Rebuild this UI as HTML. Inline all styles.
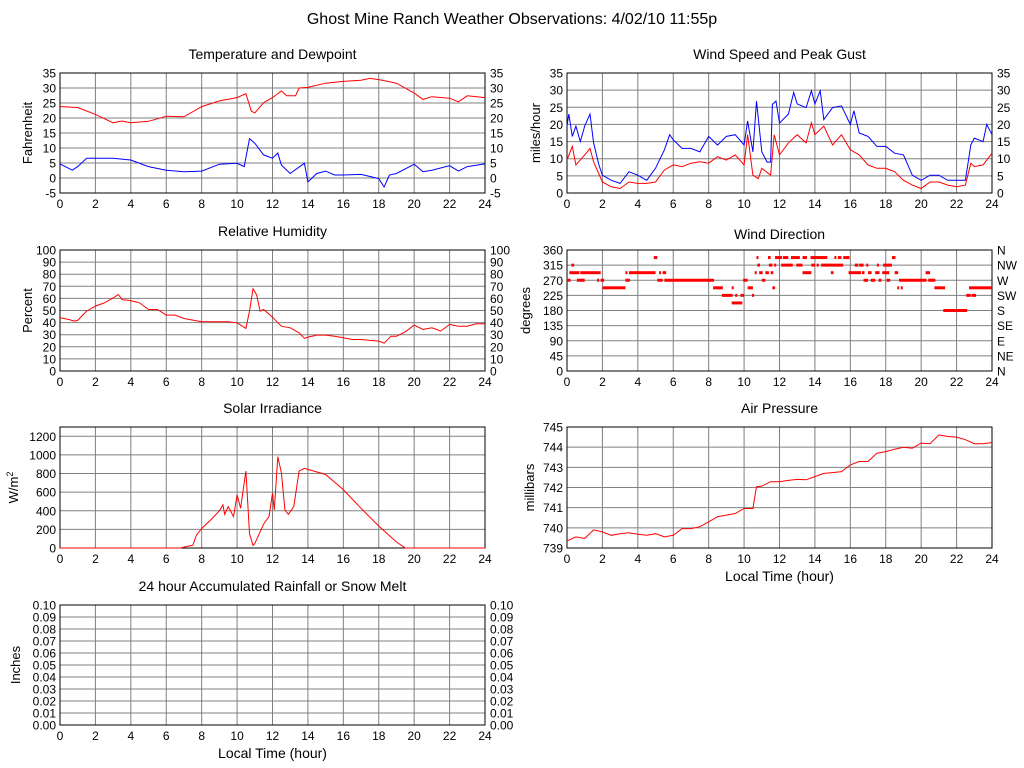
<!DOCTYPE html>
<html><head><meta charset="utf-8"><style>
html,body{margin:0;padding:0;background:#fff;}
svg{display:block;font-family:"Liberation Sans",Arial,sans-serif;}
</style></head><body>
<svg id="chart" width="1024" height="768" viewBox="0 0 1024 768" xmlns="http://www.w3.org/2000/svg">
<text x="512" y="24" text-anchor="middle" font-size="16">Ghost Mine Ranch Weather Observations: 4/02/10 11:55p</text>
</svg>
<script>
const hourTicks=[0,2,4,6,8,10,12,14,16,18,20,22,24];
const tempTicks=[-5,0,5,10,15,20,25,30,35];
const windTicks=[0,5,10,15,20,25,30,35];
const rhTicks=[0,10,20,30,40,50,60,70,80,90,100];
const dirTicks=[0,45,90,135,180,225,270,315,360];
const dirNames=["N","NE","E","SE","S","SW","W","NW","N"];
const solarTicks=[0,200,400,600,800,1000,1200];
const presTicks=[739,740,741,742,743,744,745];
const rainTicks=[0,0.01,0.02,0.03,0.04,0.05,0.06,0.07,0.08,0.09,0.10];

const tempHours=[0,1,2,3,3.5,4,5,6,7,8,9,10,10.5,10.8,11,11.5,12,12.5,12.8,13.3,13.5,14,15,16,17,17.5,18,19,20,20.5,21,22,22.5,23,24];
const tempVals=[23.8,23.5,21.2,18.4,19,18.4,18.9,20.6,20.4,23.8,25.7,26.8,28.1,22.3,21.7,25.1,26.8,29,27.4,27.4,30,30.2,31.6,32.2,32.6,33.2,32.8,31.6,28.3,26.2,27.1,26.6,25.4,27.4,26.8];
const dewHours=[0,0.7,1,1.5,2,3,4,5,6,7,8,9,10,10.4,10.7,11,11.5,12,12.3,12.5,13,13.8,14,14.5,15,15.5,16,17,18,18.3,18.6,19,20,20.5,21,22,22.5,23,24];
const dewVals=[4.7,2.6,3.8,6.6,6.6,6.6,6.0,3.8,2.6,2.1,2.3,4.6,4.9,3.8,13.1,11.6,7.7,6.6,8.3,4.3,1.5,4.9,-1.3,1.5,2.3,1,1,1.2,-0.2,-3,1,1.5,4.6,2.1,2.6,4.1,2.3,3.8,4.7];

const gustHours=[0,0.1,0.3,0.5,0.75,1,1.3,1.5,1.8,2,2.5,3,3.5,4,4.5,5,5.5,5.8,6,6.5,7,7.5,8,8.5,9,9.5,10,10.2,10.5,10.7,11,11.3,11.5,11.6,11.8,12,12.5,12.8,13,13.5,13.8,14,14.3,14.5,15,15.5,16,16.2,16.5,17,17.5,18,18.5,19,19.5,20,20.5,21,21.5,22,22.5,22.8,23,23.5,23.7,24];
const gustVals=[19.5,23,16.5,19.5,15,19.5,23,14.6,8.2,5.2,3.7,2.8,6.2,5.2,3.7,7.2,12.6,17,15.5,13,13,12,16.5,14,16.5,17,14,21,12,26.8,12,9,9,25.9,26.8,20.4,23,29.3,26,24.9,29.8,26,29.8,21.4,24.9,25.4,20,24,17.5,16.5,13.6,13.6,11.6,11.1,5.2,3.7,5.2,5.2,3.7,3.7,3.7,14,16,15,20,17];
const avgHours=[0,0.3,0.5,1,1.3,1.5,2,2.5,3,3.5,4,4.5,5,5.5,6,6.5,7,7.5,8,8.5,9,9.5,10,10.2,10.5,10.8,11,11.5,11.7,12,12.5,13,13.5,13.8,14,14.5,15,15.5,16,16.5,17,17.5,18,18.5,19,19.5,20,20.5,21,21.5,22,22.5,22.8,23,23.5,24];
const avgVals=[9.6,13.6,8.2,11.1,13,9.1,3.2,1.8,1.3,3.2,2.8,2.8,3.2,6.7,8.2,7.7,8.7,9.1,8.7,10.6,9.6,11.1,8.2,17,5.2,4.2,7.2,5.2,17,11.1,14.6,17,14.6,20.5,17,19.5,14,17,12.6,11.1,8.2,7.2,7.2,6.2,3.7,2.3,1.3,3.2,3.2,2.3,1.8,2.3,8.7,7.7,8.2,11.6];

const rhHours=[0,0.5,0.8,1,1.5,2,2.5,3,3.3,3.5,4,4.5,5,5.5,6,6.5,7,8,8.5,9,9.5,10,10.5,10.7,10.9,11.1,11.3,11.5,12,12.5,13,13.5,13.8,14,14.5,15,15.5,16,16.5,17,17.5,18,18.3,18.7,19,19.5,20,20.5,21,21.5,22,22.5,23,23.5,24];
const rhVals=[44,42.6,41.2,41.8,49.5,53.6,56.3,60.4,63.2,59,58.2,56.3,50.8,50.8,46.2,46.2,43.4,40.7,40.7,40.7,40.7,39.8,35.2,49.5,68,63,49.5,50.8,44.5,37,35.7,31.6,27,28,29.7,29.7,28.8,27.5,26,26,25.3,24.7,23,28.8,28.8,32.4,37.9,34.3,35.7,33,38.5,37,37,39,39];

const dirStart=[0,0.25,0.13,0.75,0.56,1.7,1.9,2.0,3.3,3.5,4.9,3.3,5.1,5.5,5.2,5.4,8.25,9.3,8.75,9.5,9.8,10.45,9.3,9.95,11.0,10.2,11.6,10.6,10.85,11.2,11.5,10.75,11.4,11.7,12.1,12.95,13.8,14.1,14.35,16.25,16.5,16.9,17.5,17.85,10.7,11.35,11.75,12.2,12.65,13.3,13.75,15.1,15.3,15.6,18.35,13.3,14.9,15.9,16.65,17.0,17.4,17.8,18.5,20.25,16.75,17.15,17.6,18.05,18.75,20.4,18.65,18.85,20.75,22.7,21.25,22.55,22.85];
const dirEnd=[0.2,0.4,0.7,1.9,1.0,1.8,2.1,3.3,3.4,5.0,5.1,3.55,5.4,8.3,5.3,5.6,8.8,9.4,9.35,9.6,10.0,10.55,9.9,10.2,11.2,10.5,11.75,10.7,11.05,11.4,11.65,10.9,11.6,11.8,12.75,13.3,14.0,14.2,15.6,16.45,16.75,17.0,17.6,18.35,10.8,11.5,12.15,12.5,13.15,13.55,14.7,15.2,15.5,15.95,18.55,13.8,15.05,16.6,16.8,17.2,17.65,18.2,18.7,20.5,17.0,17.4,17.75,18.25,20.3,20.8,18.75,18.95,21.35,24,22.6,22.8,23.1];
const dirVals=[270,315,292.5,292.5,270,270,270,247.5,292.5,292.5,337.5,270,270,270,292.5,292.5,247.5,247.5,225,225,225,225,202.5,270,270,247.5,247.5,292.5,292.5,292.5,292.5,315,315,315,315,315,315,315,315,315,315,315,315,315,337.5,337.5,337.5,337.5,337.5,337.5,337.5,337.5,337.5,337.5,337.5,292.5,292.5,292.5,292.5,292.5,292.5,292.5,292.5,292.5,270,270,270,270,270,270,247.5,247.5,247.5,247.5,180,225,225];

const solarHours=[0,6.8,7,7.2,7.5,7.7,8,8.5,9,9.2,9.3,9.5,9.8,10,10.2,10.4,10.5,10.7,10.9,11,11.5,11.8,12,12.1,12.3,12.5,12.7,12.9,13.2,13.5,13.8,14,15,16,17,18,19,19.5,24];
const solarVals=[0,0,10,18,29,138,210,300,400,464,362,445,337,572,427,700,826,156,29,47,257,337,590,409,982,808,409,362,446,826,855,844,790,627,427,235,65,0,0];

const presHours=[0,0.5,1,1.5,2,2.5,3,3.5,4,4.5,5,5.5,6,6.5,7,7.5,8,8.5,9,9.5,10,10.5,10.7,11,11.5,12,12.5,13,13.5,14,14.5,15,15.5,16,16.5,17,17.5,18,18.5,19,19.5,20,20.5,21,21.5,22,22.5,23,23.5,24];
const presVals=[739.35,739.55,739.47,739.9,739.8,739.63,739.71,739.76,739.68,739.63,739.71,739.55,739.63,739.96,739.96,740.05,740.3,740.55,740.63,740.71,740.96,740.96,742.04,742.07,742.29,742.29,742.35,742.4,742.38,742.54,742.7,742.74,742.79,743.12,743.29,743.29,743.7,743.78,743.9,744.0,743.95,744.2,744.17,744.61,744.53,744.5,744.37,744.17,744.17,744.23];

const rainHours=[0,24];
const rainVals=[0,0];

const svg=document.getElementById('chart');
const NS='http://www.w3.org/2000/svg';
function mk(tag,attrs,parent){const e=document.createElementNS(NS,tag);for(const k in attrs)e.setAttribute(k,attrs[k]);(parent||svg).appendChild(e);return e;}
function txt(x,y,s,anchor,size,parent){const t=mk('text',{x:x,y:y,'text-anchor':anchor,'font-size':size},parent);t.textContent=s;return t;}

function panel(o){
  const g=mk('g',{});
  
  
  const xs=h=>o.x0+(h/24)*(o.x1-o.x0);
  const ys=v=>o.y1-(v-o.ymin)/(o.ymax-o.ymin)*(o.y1-o.y0);
  hourTicks.forEach(h=>{const l=mk('line',{x1:xs(h),x2:xs(h),y1:o.y0,y2:o.y1,stroke:'#808080','stroke-width':1},g);
    
    const t=txt(xs(h),o.y1+15,String(h),'middle',12,g);
    });
  o.ticks.forEach((v,i)=>{const y=ys(v);const l=mk('line',{x1:o.x0,x2:o.x1,y1:y,y2:y,stroke:'#808080','stroke-width':1},g);
    
    const t=txt(o.x0-4,y+4.5,o.fmt(v),'end',12,g);
    
    if(o.right){const r=txt(o.x1+5,y+4.5,o.right(v,i),'start',12,g);
      }});
  const b=mk('rect',{x:o.x0,y:o.y0,width:o.x1-o.x0,height:o.y1-o.y0,fill:'none',stroke:'#000','stroke-width':1},g);
  
  const t=txt((o.x0+o.x1)/2,o.y0-14+(o.titleDy||0),o.title,'middle',14,g);
  
  const cx=o.labelX,cy=(o.y0+o.y1)/2;
  const yl=mk('text',{x:cx,y:cy,'text-anchor':'middle','font-size':13,transform:'rotate(-90 '+cx+' '+cy+')'},g);
  
  if(o.ylabelSup){yl.textContent=o.ylabel;const ts=mk('tspan',{'font-size':9,dy:-5},yl);ts.textContent=o.ylabelSup;}
  else yl.textContent=o.ylabel;
  if(o.xlabel){const xl=txt((o.x0+o.x1)/2,o.y1+33,o.xlabel,'middle',14,g);
    }
  (o.series||[]).forEach(s=>{
    const pts=s.h.map((h,i)=>xs(h).toFixed(1)+','+ys(s.v[i]).toFixed(1)).join(' ');
    const p=mk('polyline',{points:pts,fill:'none',stroke:s.color,'stroke-width':1},g);
    });
  return {g,xs,ys};
}
const f0=v=>String(v);
panel({name:'temperature-panel',title:'Temperature and Dewpoint',x0:60,x1:485,y0:73,y1:193,ymin:-5,ymax:35,ticks:tempTicks,fmt:f0,right:f0,labelX:32,ylabel:'Fahrenheit',
  series:[{name:'temperature-line',h:tempHours,v:tempVals,color:'#ff0000'},{name:'dewpoint-line',h:dewHours,v:dewVals,color:'#0000ff'}]});
panel({name:'wind-speed-panel',title:'Wind Speed and Peak Gust',x0:567,x1:992,y0:73,y1:193,ymin:0,ymax:35,ticks:windTicks,fmt:f0,right:f0,labelX:540,ylabel:'miles/hour',
  series:[{name:'gust-line',h:gustHours,v:gustVals,color:'#0000ff'},{name:'wind-speed-line',h:avgHours,v:avgVals,color:'#ff0000'}]});
panel({name:'humidity-panel',title:'Relative Humidity',x0:60,x1:485,y0:250,y1:371,ymin:0,ymax:100,ticks:rhTicks,fmt:f0,right:f0,labelX:32,ylabel:'Percent',
  series:[{name:'humidity-line',h:rhHours,v:rhVals,color:'#ff0000'}]});
const wd=panel({name:'wind-direction-panel',title:'Wind Direction',titleDy:3,x0:567,x1:992,y0:250,y1:371,ymin:0,ymax:360,ticks:dirTicks,fmt:f0,right:(v,i)=>dirNames[i],labelX:530,ylabel:'degrees'});
dirStart.forEach((s,i)=>{
  const x=wd.xs(s),w=Math.max(2,wd.xs(dirEnd[i])-x);
  const r=mk('rect',{x:x,y:wd.ys(dirVals[i])-1.5,width:w,height:3,fill:'#ff0000'},wd.g);
  
  
});
panel({name:'solar-panel',title:'Solar Irradiance',x0:60,x1:485,y0:427,y1:548,ymin:0,ymax:1300,ticks:solarTicks,fmt:f0,labelX:18,ylabel:'W/m',ylabelSup:'2',
  series:[{name:'solar-line',h:solarHours,v:solarVals,color:'#ff0000'}]});
panel({name:'pressure-panel',title:'Air Pressure',x0:567,x1:992,y0:427,y1:548,ymin:739,ymax:745,ticks:presTicks,fmt:f0,labelX:534,ylabel:'millibars',xlabel:'Local Time (hour)',
  series:[{name:'pressure-line',h:presHours,v:presVals,color:'#ff0000'}]});
panel({name:'rainfall-panel',title:'24 hour Accumulated Rainfall or Snow Melt',x0:60,x1:485,y0:605,y1:725,ymin:0,ymax:0.1,ticks:rainTicks,fmt:v=>v.toFixed(2),right:v=>v.toFixed(2),labelX:20,ylabel:'Inches',xlabel:'Local Time (hour)'});
</script>
</body></html>
